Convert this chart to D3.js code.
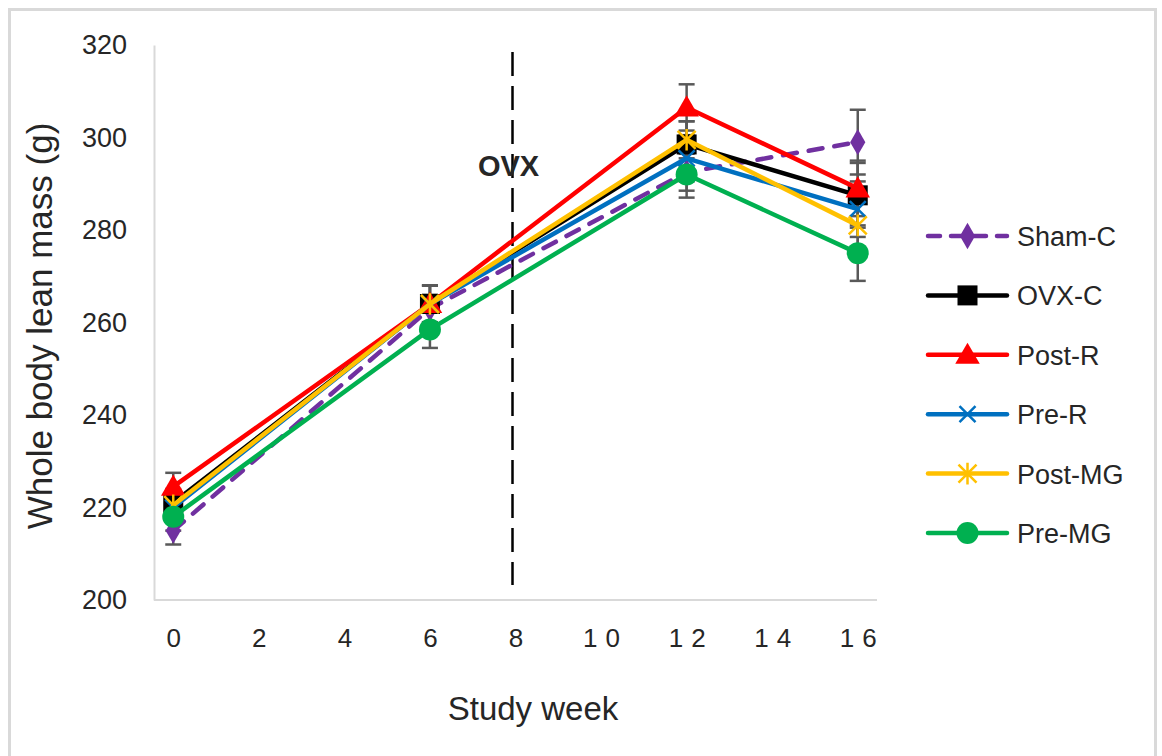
<!DOCTYPE html>
<html>
<head>
<meta charset="utf-8">
<script src="https://cdn.jsdelivr.net/npm/d3@7"></script>
<style>
  html, body { margin: 0; padding: 0; background: #fff; }
  svg text { font-family: "Liberation Sans", "DejaVu Sans", sans-serif; fill: #262626; }
</style>
</head>
<body>
<svg id="chart" width="1162" height="756"></svg>
<script>
// Study weeks at which lean mass was measured
const weeks = [0, 6, 12, 16];
const xTicks = [0, 2, 4, 6, 8, 10, 12, 14, 16];
const yTicks = [200, 220, 240, 260, 280, 300, 320];
const groups = ["Sham-C", "OVX-C", "Post-R", "Pre-R", "Post-MG", "Pre-MG"];

// Mean whole body lean mass (g) per group
const shamC  = [215, 263, 292.5, 299];
const ovxC   = [221, 264, 298.5, 287.5];
const postR  = [224.5, 264, 306.5, 289];
const preR   = [220, 264, 295.5, 284.5];
const postMG = [220.5, 264, 299.5, 281];
const preMG  = [218, 258.5, 292, 275];

// Standard errors (g)
const shamCErr  = [3, 3, 4, 7];
const ovxCErr   = [3, 4, 5, 7];
const postRErr  = [3, 4, 5, 6];
const preRErr   = [3, 4, 5, 6];
const postMGErr = [3, 4, 4, 5];
const preMGErr  = [3, 4, 5, 6];

const colors = ["#7030a0", "#000000", "#ff0000", "#0070c0", "#ffc000", "#00b050"];
const symbolsKind = ["diamond", "square", "triangle", "x", "star", "circle"];

const seriesValues = [shamC, ovxC, postR, preR, postMG, preMG];
const seriesErrors = [shamCErr, ovxCErr, postRErr, preRErr, postMGErr, preMGErr];

const series = groups.map((name, i) => ({
  name, color: colors[i], kind: symbolsKind[i], dashed: i === 0,
  points: weeks.map((w, j) => ({ week: w, value: seriesValues[i][j], err: seriesErrors[i][j] }))
}));

const svg = d3.select("#chart");

// outer frame
svg.append("path")
  .attr("d", "M9.5,760 L9.5,9.5 L1155.5,9.5 L1155.5,760")
  .attr("fill", "none").attr("stroke", "#d9d9d9").attr("stroke-width", 3);

const plot = { left: 154, right: 877, top: 45, bottom: 600 };

const x = d3.scaleLinear().domain([-0.45, 16.45]).range([plot.left, plot.right]);
const y = d3.scaleLinear().domain([200, 320]).range([plot.bottom, plot.top]);

// y axis
const yAxis = svg.append("g").attr("transform", `translate(${plot.left},0)`)
  .call(d3.axisLeft(y).tickValues(yTicks).tickSize(0).tickPadding(27));
yAxis.select(".domain").attr("stroke", "#d9d9d9").attr("stroke-width", 2);
yAxis.selectAll("text").style("font-size", "27px").attr("fill", "#262626");

// x axis
const xAxis = svg.append("g").attr("transform", `translate(0,${plot.bottom})`)
  .call(d3.axisBottom(x).tickValues(xTicks).tickSize(0).tickPadding(29));
xAxis.select(".domain").attr("stroke", "#d9d9d9").attr("stroke-width", 2)
  .attr("d", `M${plot.left},0H${plot.right}`);
xAxis.selectAll("text").style("font-size", "26px").attr("fill", "#262626")
  .style("letter-spacing", d => d >= 10 ? "8px" : "0px")
  .attr("dx", d => d >= 10 ? 4 : 0);

// axis titles
svg.append("text").attr("transform", "translate(52,326) rotate(-90)")
  .attr("text-anchor", "middle").style("font-size", "35px").text("Whole body lean mass (g)");
svg.append("text").attr("x", 533).attr("y", 720)
  .attr("text-anchor", "middle").style("font-size", "33px").text("Study week");

// ovariectomy marker at week 8
svg.append("line")
  .attr("x1", x(8) - 3).attr("x2", x(8) - 3).attr("y1", 52).attr("y2", 585)
  .attr("stroke", "#000").attr("stroke-width", 2.5).attr("stroke-dasharray", "24,10");
svg.append("text").attr("x", x(8) - 7).attr("y", 176).attr("text-anchor", "middle")
  .style("font-size", "29px").style("font-weight", "bold").attr("fill", "#000").text("OVX");

// error bars
const errG = svg.append("g");
series.forEach(s => {
  s.points.forEach(p => {
    const cx = x(p.week);
    const y1 = y(p.value + p.err), y2 = y(p.value - p.err);
    errG.append("line").attr("x1", cx).attr("x2", cx).attr("y1", y1).attr("y2", y2)
      .attr("stroke", "#595959").attr("stroke-width", 2.5);
    [y1, y2].forEach(yy => errG.append("line")
      .attr("x1", cx - 8).attr("x2", cx + 8).attr("y1", yy).attr("y2", yy)
      .attr("stroke", "#595959").attr("stroke-width", 2.5));
  });
});

const line = d3.line().x(d => x(d.week)).y(d => y(d.value));

// marker drawing helper
function drawMarker(g, kind, color, cx, cy, scale = 1) {
  const s = scale;
  if (kind === "diamond") {
    g.append("path").attr("d", d3.symbol(d3.symbolDiamond, 200 * s * s)())
      .attr("transform", `translate(${cx},${cy})`).attr("fill", color);
  } else if (kind === "square") {
    g.append("rect").attr("x", cx - 10 * s).attr("y", cy - 10 * s)
      .attr("width", 20 * s).attr("height", 20 * s).attr("fill", color);
  } else if (kind === "triangle") {
    g.append("path").attr("d", d3.symbol(d3.symbolTriangle, 260 * s * s)())
      .attr("transform", `translate(${cx},${cy + 2})`).attr("fill", color);
  } else if (kind === "x") {
    const r = 8 * s;
    g.append("path").attr("d", `M${cx - r},${cy - r}L${cx + r},${cy + r}M${cx - r},${cy + r}L${cx + r},${cy - r}`)
      .attr("stroke", color).attr("stroke-width", 2.5).attr("fill", "none");
  } else if (kind === "star") {
    const r = 9 * s;
    g.append("path").attr("d",
      `M${cx - r},${cy - r}L${cx + r},${cy + r}M${cx - r},${cy + r}L${cx + r},${cy - r}M${cx},${cy - r * 1.2}L${cx},${cy + r * 1.2}`)
      .attr("stroke", color).attr("stroke-width", 2.5).attr("fill", "none");
  } else if (kind === "circle") {
    g.append("circle").attr("cx", cx).attr("cy", cy).attr("r", 11 * s).attr("fill", color);
  }
}

// series lines and markers (sham first, so groups draw over it)
series.forEach(s => {
  const g = svg.append("g");
  g.append("path").datum(s.points).attr("d", line)
    .attr("fill", "none").attr("stroke", s.color).attr("stroke-width", 4.5)
    .attr("stroke-linejoin", "round").attr("stroke-linecap", "round")
    .attr("stroke-dasharray", s.dashed ? "14,12" : null);
  s.points.forEach(p => drawMarker(g, s.kind, s.color, x(p.week), y(p.value)));
});

// legend
const legend = svg.append("g");
const legX0 = 928, legX1 = 1007, legY0 = 236, legStep = 59.4;
series.forEach((s, i) => {
  const ly = legY0 + i * legStep;
  legend.append("line").attr("x1", legX0).attr("x2", legX1).attr("y1", ly).attr("y2", ly)
    .attr("stroke", s.color).attr("stroke-width", 4.5).attr("stroke-linecap", "round")
    .attr("stroke-dasharray", s.dashed ? "12,11" : null);
  drawMarker(legend, s.kind, s.color, (legX0 + legX1) / 2, ly, 1);
  legend.append("text").attr("x", 1017).attr("y", ly + 10).style("font-size", "27px").text(s.name);
});
</script>
</body>
</html>
